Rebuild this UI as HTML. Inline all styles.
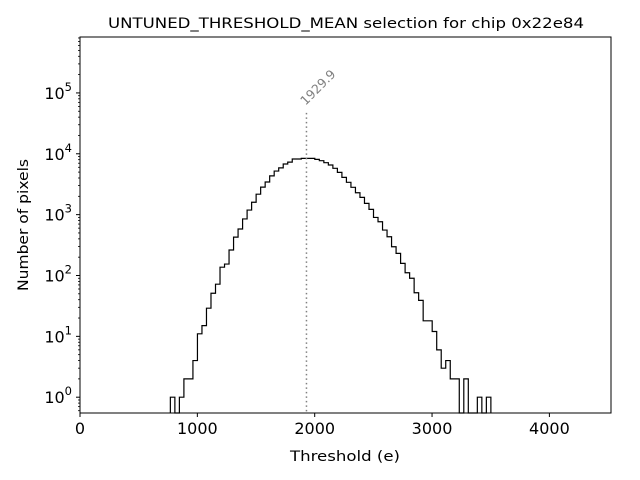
<!DOCTYPE html>
<html><head><meta charset="utf-8"><style>
body{margin:0;background:#fff}
svg{display:block;font-family:"DejaVu Sans","Liberation Sans",sans-serif}
</style></head><body>
<svg id="chart" width="640" height="480" viewBox="0 0 640 480">
<text x="346" y="28" font-size="14" text-anchor="middle" textLength="476" lengthAdjust="spacingAndGlyphs">UNTUNED_THRESHOLD_MEAN selection for chip 0x22e84</text>
<text x="345" y="461" font-size="14" text-anchor="middle" textLength="110" lengthAdjust="spacingAndGlyphs">Threshold (e)</text>
<text transform="translate(28,225) rotate(-90)" font-size="14" text-anchor="middle" textLength="132" lengthAdjust="spacingAndGlyphs">Number of pixels</text>
<g id="ticks"></g>
<g id="marks"></g>
<rect x="80" y="37" width="531" height="376" fill="none" stroke="#000" stroke-width="1"/>
</svg>
<script>
const binStart = 770;
const binWidth = 38.47;
const counts = [1,0,1,2,2,4,11,15,29,51,72,137,154,262,427,580,850,1190,1600,2170,2830,3440,4330,5200,5870,6800,7300,8200,8200,8400,8400,8400,
8100,7700,7140,6540,5770,4950,4100,3400,2810,2290,1920,1530,1220,900,765,558,433,297,231,158,111,90,52,39,18,18,12,6,3,4,2,2,0,2,0,0,1,0,1];
const xTicks = [0,1000,2000,3000,4000];
const yTickExps = [0,1,2,3,4,5];
const meanValue = 1929.9;
const meanLineTop = 47000;

const X0=80,X1=611,Y0=37,Y1=413;
const xMin=0,xMax=4525, yMinLog=Math.log10(0.55), yMaxLog=Math.log10(830000);
const sx=v=>X0+(v-xMin)/(xMax-xMin)*(X1-X0);
const sy=v=>Y1-(Math.log10(v)-yMinLog)/(yMaxLog-yMinLog)*(Y1-Y0);
const NS="http://www.w3.org/2000/svg";
const mk=(t,a,p)=>{const e=document.createElementNS(NS,t);for(const k in a)e.setAttribute(k,a[k]);p.appendChild(e);return e;};
const ticks=document.getElementById('ticks'), marks=document.getElementById('marks');

xTicks.forEach(v=>{
  const l=mk('line',{x1:sx(v),x2:sx(v),y1:Y1,y2:Y1+4,stroke:'#000'},ticks);
  
  
  const t=mk('text',{x:sx(v),y:Y1+21,'font-size':16,'text-anchor':'middle'},ticks);
  t.textContent=v;
  
  
});
yTickExps.forEach(e=>{
  const y=sy(Math.pow(10,e));
  const l=mk('line',{x1:X0-4,x2:X0,y1:y,y2:y,stroke:'#000'},ticks);
  
  
  const t=mk('text',{x:X0-8,y:y+6,'font-size':16,'text-anchor':'end'},ticks);
  t.innerHTML='10<tspan dy="-8" font-size="11.5">'+e+'</tspan>';
  
  
});
for(let e=-1;e<=5;e++){for(let m=2;m<=9;m++){const v=m*Math.pow(10,e);if(Math.log10(v)<yMinLog||Math.log10(v)>yMaxLog)continue;
  const y=sy(v);const l=mk('line',{x1:X0-2,x2:X0,y1:y,y2:y,stroke:'#000','stroke-width':0.8},ticks);
  
  }}

let d='', base=Y1;
counts.forEach((c,i)=>{
  const xa=sx(binStart+i*binWidth), xb=sx(binStart+(i+1)*binWidth);
  const y=c>0?sy(c):base;
  if(i===0)d+='M'+xa+','+base;
  d+=' L'+xa+','+y+' L'+xb+','+y;
});
d+=' L'+sx(binStart+counts.length*binWidth)+','+base;
const p=mk('path',{d:d,fill:'none',stroke:'#000','stroke-width':1.2},marks);



const mx=sx(meanValue);
const ml=mk('line',{x1:mx,x2:mx,y1:sy(meanLineTop),y2:Y1,stroke:'#808080','stroke-width':1.5,'stroke-dasharray':'1.5,3'},marks);


const mt=mk('text',{transform:'translate('+(mx-1)+','+(sy(meanLineTop)-7)+') rotate(-45)','font-size':12.5,fill:'#808080'},marks);
mt.textContent=meanValue.toFixed(1);


</script>
</body></html>
